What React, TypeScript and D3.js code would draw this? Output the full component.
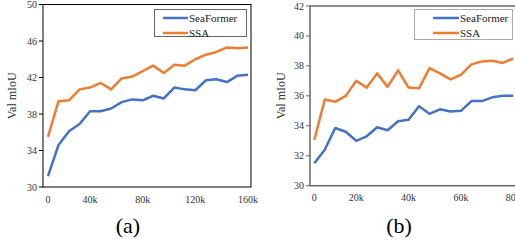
import React from 'react';
import * as d3 from 'd3';

// panel (a): 160k schedule
const seaFormerA = [31.2, 34.6, 36.1, 36.9, 38.3, 38.3, 38.6, 39.3, 39.6, 39.5, 40.0, 39.7, 40.9, 40.7, 40.6, 41.7, 41.8, 41.5, 42.2, 42.3];
const ssaA = [35.5, 39.4, 39.5, 40.7, 40.9, 41.4, 40.7, 41.9, 42.1, 42.7, 43.3, 42.5, 43.4, 43.3, 44.0, 44.5, 44.8, 45.3, 45.2, 45.3];
const xLabelsA = ['0', '', '', '', '40k', '', '', '', '', '80k', '', '', '', '', '120k', '', '', '', '', '160k'];
const yTicksA = [30, 34, 38, 42, 46, 50];

// panel (b): 80k schedule
const seaFormerB = [31.5, 32.4, 33.85, 33.6, 33.0, 33.3, 33.9, 33.7, 34.3, 34.4, 35.3, 34.8, 35.1, 34.95, 35.0, 35.65, 35.65, 35.9, 36.0, 36.0];
const ssaB = [33.05, 35.75, 35.6, 36.0, 37.0, 36.55, 37.5, 36.6, 37.7, 36.55, 36.5, 37.85, 37.5, 37.1, 37.4, 38.1, 38.3, 38.35, 38.2, 38.5];
const xLabelsB = ['0', '', '', '', '20k', '', '', '', '', '40k', '', '', '', '', '60k', '', '', '', '', '80k'];
const yTicksB = [30, 32, 34, 36, 38, 40, 42];

const BLUE = '#4472C4';
const ORANGE = '#ED7D31';
const FONT = "'Liberation Serif', 'Times New Roman', serif";

type PanelProps = {
    seaFormer: number[];
    ssa: number[];
    xLabels: string[];
    yTicks: number[];
    frame: { x0: number; x1: number; top: number; bottom: number };
    xRange: [number, number];
    frameColor: string;
    frameWidth: number;
    legend: { x: number; y: number; w: number; h: number; color: string; lineX0: number; lineX1: number };
    titleX: number;
    xLabelY: number;
    caption: string;
    captionX: number;
};

const Panel = (p: PanelProps) => {
    const { frame } = p;
    const yDomain = d3.extent(p.yTicks) as [number, number];
    const y = d3.scaleLinear().domain(yDomain).range([frame.bottom, frame.top]);
    const x = d3.scalePoint<number>().domain(d3.range(p.xLabels.length)).range(p.xRange);

    const line = d3.line<number>()
        .x((_, i) => x(i) as number)
        .y(d => y(d));

    const series = [
        { name: 'SeaFormer', values: p.seaFormer, color: BLUE },
        { name: 'SSA', values: p.ssa, color: ORANGE },
    ];

    const midY = (frame.top + frame.bottom) / 2;
    const ts = { fontFamily: FONT };

    return (
        <g>
            {/* frame */}
            <rect x={frame.x0} y={frame.top} width={frame.x1 - frame.x0} height={frame.bottom - frame.top}
                fill="none" stroke={p.frameColor} strokeWidth={p.frameWidth} />
            {/* y ticks */}
            {p.yTicks.map(t => (
                <g key={t}>
                    <line x1={frame.x0 - 4} x2={frame.x0} y1={y(t)} y2={y(t)} stroke={p.frameColor} strokeWidth={1} />
                    <text style={ts} x={frame.x0 - 6} y={y(t)} dy="0.35em" textAnchor="end" fontSize={10} fill="#333">{t}</text>
                </g>
            ))}
            {/* x labels */}
            {p.xLabels.map((l, i) => l ? (
                <text style={ts} key={i} x={x(i)} y={p.xLabelY} textAnchor="middle" fontSize={10} fill="#333">{l}</text>
            ) : null)}
            <text style={ts} transform={`translate(${p.titleX},${midY}) rotate(-90)`} textAnchor="middle" dy="0.35em"
                fontSize={12} fill="#333">Val mIoU</text>
            {/* lines */}
            {series.map(s => (
                <path key={s.name} d={line(s.values) || ''} fill="none" stroke={s.color} strokeWidth={2.5}
                    strokeLinejoin="round" />
            ))}
            {/* legend */}
            <rect x={p.legend.x} y={p.legend.y} width={p.legend.w} height={p.legend.h}
                fill="#fff" stroke={p.legend.color} strokeWidth={1} />
            {series.map((s, i) => {
                const ly = p.legend.y + 8.5 + i * 15;
                return (
                    <g key={s.name}>
                        <line x1={p.legend.lineX0} x2={p.legend.lineX1} y1={ly} y2={ly} stroke={s.color} strokeWidth={2.5} />
                        <text style={ts} x={p.legend.lineX1 + 1} y={ly} dy="0.35em" fontSize={11} fill="#222">{s.name}</text>
                    </g>
                );
            })}
            <text style={ts} x={p.captionX} y={233} textAnchor="middle" fontSize={22} fill="#000">{p.caption}</text>
        </g>
    );
};

const App = () => {
    return (
        <svg width={515} height={243} style={{ position: 'absolute', left: 0, top: 0, background: '#fff' }}>
            <Panel
                seaFormer={seaFormerA}
                ssa={ssaA}
                xLabels={xLabelsA}
                yTicks={yTicksA}
                frame={{ x0: 43, x1: 251, top: 4.5, bottom: 187 }}
                xRange={[48, 248]}
                frameColor="#000"
                frameWidth={1}
                legend={{ x: 154.5, y: 9.5, w: 92, h: 27, color: '#666', lineX0: 163, lineX1: 188 }}
                titleX={12}
                xLabelY={203}
                caption="(a)"
                captionX={128}
            />
            <Panel
                seaFormer={seaFormerB}
                ssa={ssaB}
                xLabels={xLabelsB}
                yTicks={yTicksB}
                frame={{ x0: 310, x1: 530, top: 6, bottom: 185.7 }}
                xRange={[314.3, 513.3]}
                frameColor="#666"
                frameWidth={1.5}
                legend={{ x: 414.5, y: 9.5, w: 98, h: 30, color: '#aaa', lineX0: 433, lineX1: 459 }}
                titleX={281}
                xLabelY={201}
                caption="(b)"
                captionX={399}
            />
        </svg>
    );
};

export default App;
